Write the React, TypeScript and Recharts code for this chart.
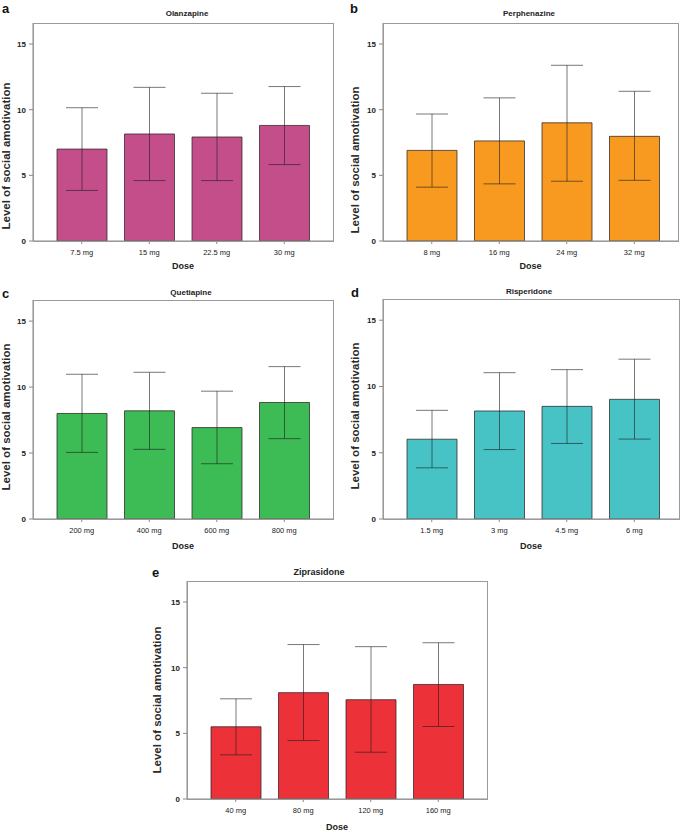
import { BarChart, Bar, XAxis, YAxis, ErrorBar } from 'recharts';

// values (mean with lower/upper whisker ends)
const olanzDoses = ['7.5 mg', '15 mg', '22.5 mg', '30 mg'];
const olanzMean = [7.0, 8.15, 7.92, 8.8];
const olanzLow = [3.85, 4.6, 4.6, 5.82];
const olanzHigh = [10.15, 11.7, 11.25, 11.76];

const perphDoses = ['8 mg', '16 mg', '24 mg', '32 mg'];
const perphMean = [6.9, 7.62, 9.0, 7.97];
const perphLow = [4.1, 4.35, 4.55, 4.62];
const perphHigh = [9.67, 10.9, 13.38, 11.4];

const quetDoses = ['200 mg', '400 mg', '600 mg', '800 mg'];
const quetMean = [8.0, 8.2, 6.93, 8.83];
const quetLow = [5.05, 5.28, 4.19, 6.09];
const quetHigh = [10.97, 11.12, 9.69, 11.55];

const rispDoses = ['1.5 mg', '3 mg', '4.5 mg', '6 mg'];
const rispMean = [6.02, 8.15, 8.5, 9.03];
const rispLow = [3.86, 5.24, 5.7, 6.03];
const rispHigh = [8.2, 11.04, 11.27, 12.06];

const ziprDoses = ['40 mg', '80 mg', '120 mg', '160 mg'];
const ziprMean = [5.5, 8.1, 7.56, 8.72];
const ziprLow = [3.36, 4.45, 3.56, 5.52];
const ziprHigh = [7.63, 11.76, 11.6, 11.9];

const yTicks = [0, 5, 10, 15];
const yMax = 16.6;

const FONT = '"Liberation Sans", Arial, sans-serif';

const buildData = (doses: string[], mean: number[], low: number[], high: number[]) =>
  doses.map((dose, i) => ({
    dose,
    mean: mean[i],
    err: [mean[i] - low[i], high[i] - mean[i]]
  }));

type PanelProps = {
  letter: string;
  title: string;
  color: string;
  doses: string[];
  mean: number[];
  low: number[];
  high: number[];
  x0: number;
  y0: number;
  w: number;
  h: number;
  padR: number;
  titleX: number;
  titleY: number;
  titleSize: number;
  letterX: number;
  letterY: number;
  labelX: number;
  labelY: number;
  doseY: number;
};

const YAXIS_W = 33;
const TOP_M = 5;
const XAXIS_H = 35;

const Panel = (p: PanelProps) => {
  const data = buildData(p.doses, p.mean, p.low, p.high);
  return (
    <>
      <div
        style={{
          position: 'absolute',
          left: p.letterX,
          top: p.letterY,
          fontSize: 13,
          fontWeight: 'bold',
          lineHeight: '13px'
        }}
      >
        {p.letter}
      </div>
      <div
        style={{
          position: 'absolute',
          left: p.titleX - 100,
          top: p.titleY - 6,
          width: 200,
          height: 12,
          lineHeight: '12px',
          textAlign: 'center',
          fontSize: p.titleSize,
          fontWeight: 'bold',
          color: '#222'
        }}
      >
        {p.title}
      </div>
      <div
        style={{
          position: 'absolute',
          left: p.labelX - 100,
          top: p.labelY - 7,
          width: 200,
          height: 14,
          lineHeight: '14px',
          textAlign: 'center',
          fontSize: 11.5,
          fontWeight: 'bold',
          color: '#2a2a2a',
          transform: 'rotate(-90deg)'
        }}
      >
        Level of social amotivation
      </div>
      <div
        style={{
          position: 'absolute',
          left: p.x0 + p.w / 2 - 50,
          top: p.doseY - 6,
          width: 100,
          height: 12,
          lineHeight: '12px',
          textAlign: 'center',
          fontSize: 9,
          fontWeight: 'bold',
          color: '#222'
        }}
      >
        Dose
      </div>
      <div style={{ position: 'absolute', left: p.x0 - YAXIS_W, top: p.y0 - TOP_M }}>
        <BarChart
          width={p.w + YAXIS_W + 5}
          height={p.h + TOP_M + XAXIS_H}
          data={data}
          margin={{ top: TOP_M, right: 5, left: 0, bottom: 0 }}
          barSize={50}
        >
          <XAxis
            dataKey="dose"
            height={XAXIS_H}
            padding={{ left: 15, right: p.padR }}
            stroke="#888"
            tickSize={3}
            tickMargin={6}
            tick={{ fontSize: 7.5, fill: '#222', fontFamily: FONT }}
          />
          <YAxis
            width={YAXIS_W}
            domain={[0, yMax]}
            ticks={yTicks}
            allowDataOverflow
            stroke="#888"
            tickSize={4}
            tickMargin={3}
            tick={{ fontSize: 8, fontWeight: 'bold', fill: '#222', fontFamily: FONT }}
          />
          <Bar
            dataKey="mean"
            fill={p.color}
            stroke="rgba(45,35,40,0.75)"
            strokeWidth={1}
            isAnimationActive={false}
          >
            <ErrorBar
              dataKey="err"
              direction="y"
              width={16}
              stroke="rgba(30,30,30,0.6)"
              strokeWidth={1}
            />
          </Bar>
        </BarChart>
      </div>
      {/* frame around the plot area */}
      <div
        style={{
          position: 'absolute',
          left: p.x0 - 0.5,
          top: p.y0 - 0.5,
          width: p.w + 1,
          height: p.h + 1,
          boxSizing: 'border-box',
          border: '1px solid #9a9a9a',
          pointerEvents: 'none'
        }}
      />
    </>
  );
};

const App = () => (
  <div
    style={{
      position: 'absolute',
      left: 0,
      top: 0,
      width: 685,
      height: 832,
      background: '#fff',
      fontFamily: FONT,
      color: '#111'
    }}
  >
    <Panel
      letter="a" title="Olanzapine" color="#c34e8a"
      doses={olanzDoses} mean={olanzMean} low={olanzLow} high={olanzHigh}
      x0={33} y0={23} w={300} h={218} padR={15}
      titleX={187} titleY={14} titleSize={8}
      letterX={2} letterY={2} labelX={6} labelY={156} doseY={266}
    />
    <Panel
      letter="b" title="Perphenazine" color="#f79a1f"
      doses={perphDoses} mean={perphMean} low={perphLow} high={perphHigh}
      x0={383} y0={23} w={295} h={218} padR={10}
      titleX={529} titleY={14} titleSize={8}
      letterX={350} letterY={2} labelX={355} labelY={160} doseY={266}
    />
    <Panel
      letter="c" title="Quetiapine" color="#3dbb55"
      doses={quetDoses} mean={quetMean} low={quetLow} high={quetHigh}
      x0={33} y0={300} w={300} h={219} padR={15}
      titleX={191} titleY={293} titleSize={8}
      letterX={2} letterY={287} labelX={6} labelY={417} doseY={546}
    />
    <Panel
      letter="d" title="Risperidone" color="#47c3c6"
      doses={rispDoses} mean={rispMean} low={rispLow} high={rispHigh}
      x0={383} y0={299} w={296} h={220} padR={11}
      titleX={529} titleY={292} titleSize={8}
      letterX={351} letterY={286} labelX={355} labelY={416} doseY={546}
    />
    <Panel
      letter="e" title="Ziprasidone" color="#ed3139"
      doses={ziprDoses} mean={ziprMean} low={ziprLow} high={ziprHigh}
      x0={187} y0={581} w={300} h={218} padR={15}
      titleX={319} titleY={572} titleSize={9}
      letterX={152} letterY={566} labelX={157} labelY={700} doseY={827}
    />
  </div>
);

export default App;
